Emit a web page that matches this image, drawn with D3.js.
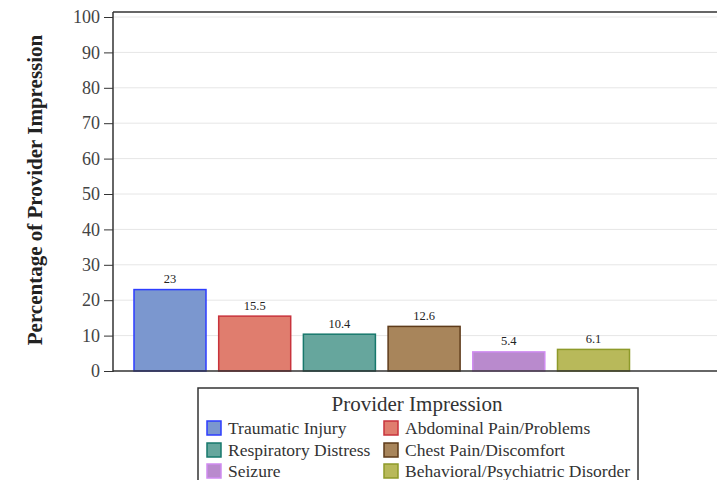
<!DOCTYPE html>
<html><head><meta charset="utf-8">
<script src="https://cdn.jsdelivr.net/npm/d3@7"></script>
<style>body{margin:0;background:#fff}svg{display:block}</style>
</head><body>
<svg id="c" width="717" height="480"></svg>
<script>
const categories = ["Traumatic Injury","Abdominal Pain/Problems","Respiratory Distress","Chest Pain/Discomfort","Seizure","Behavioral/Psychiatric Disorder"];
const values = [23, 15.5, 10.4, 12.6, 5.4, 6.1];
const valueLabels = ["23","15.5","10.4","12.6","5.4","6.1"];
const fills = ["#7b97cf","#e07d6e","#66a69d","#a8855b","#b98acd","#b8b95a"];
const strokes = ["#2d3dff","#c8333c","#17786c","#5e3b1a","#cf8bf0","#8e9a2a"];
const yTicks = [0,10,20,30,40,50,60,70,80,90,100];
const yTitle = "Percentage of Provider Impression";
const legendTitle = "Provider Impression";

(function(){
const svg = d3.select("#c");
const pL = 113, pR = 717, pT = 12, pB = 371;
const y = d3.scaleLinear().domain([0,100]).range([371,17]);
const x = d3.scaleBand().domain(categories).range([127.65,635.85]).paddingInner(0.138).paddingOuter(0.069);
const serif = "'Liberation Serif','Times New Roman',serif";

svg.append("g").selectAll("line").data(yTicks.filter(d=>d>0)).join("line")
  .attr("x1",pL).attr("x2",pR).attr("y1",d=>y(d)).attr("y2",d=>y(d))
  .attr("stroke","#e6e6e6").attr("stroke-width",1);

svg.append("g").selectAll("rect").data(values).join("rect")
  .attr("x",(d,i)=>x(categories[i])+0.5).attr("width",x.bandwidth()-1)
  .attr("y",d=>y(d)).attr("height",d=>y(0)-y(d))
  .attr("fill",(d,i)=>fills[i]).attr("stroke",(d,i)=>strokes[i]).attr("stroke-width",1.5);

svg.append("g").selectAll("text").data(values).join("text")
  .attr("x",(d,i)=>x(categories[i])+x.bandwidth()/2).attr("y",d=>y(d)-6.5)
  .attr("text-anchor","middle").attr("font-family",serif).attr("font-size",12.5).attr("fill","#222")
  .text((d,i)=>valueLabels[i]);

const ax = svg.append("g").attr("transform",`translate(${pL},0)`)
  .call(d3.axisLeft(y).tickValues(yTicks).tickSize(9).tickPadding(4));
ax.select(".domain").remove();
ax.selectAll("line").attr("stroke","#333");
ax.selectAll("text").attr("font-family",serif).attr("font-size",18).attr("fill","#444");

svg.append("line").attr("x1",pL).attr("x2",pL).attr("y1",pT).attr("y2",pB+1).attr("stroke","#333").attr("stroke-width",1.5);
svg.append("line").attr("x1",pL).attr("x2",pR).attr("y1",pB).attr("y2",pB).attr("stroke","#333").attr("stroke-width",1.5);
svg.append("line").attr("x1",pL).attr("x2",pR).attr("y1",pT).attr("y2",pT).attr("stroke","#333").attr("stroke-width",1.5);

svg.append("text").attr("transform","translate(42,190) rotate(-90)")
  .attr("text-anchor","middle").attr("font-family",serif).attr("font-size",21).attr("font-weight","bold").attr("fill","#222")
  .text(yTitle);

const lg = svg.append("g");
lg.append("rect").attr("x",198).attr("y",388).attr("width",440).attr("height",100)
  .attr("fill","#fff").attr("stroke","#333").attr("stroke-width",1.5);
lg.append("text").attr("x",417).attr("y",411).attr("text-anchor","middle")
  .attr("font-family",serif).attr("font-size",21).attr("fill","#333").text(legendTitle);
const colX = [207,384], rowY = [428,450,471];
categories.forEach((c,i)=>{
  const cx = colX[i%2], cy = rowY[Math.floor(i/2)];
  lg.append("rect").attr("x",cx).attr("y",cy-7).attr("width",14).attr("height",14)
    .attr("fill",fills[i]).attr("stroke",strokes[i]).attr("stroke-width",1.5);
  lg.append("text").attr("x",cx+21).attr("y",cy+6).attr("font-family",serif).attr("font-size",17.5).attr("fill","#333").text(c);
});
})();
</script>
</body></html>
